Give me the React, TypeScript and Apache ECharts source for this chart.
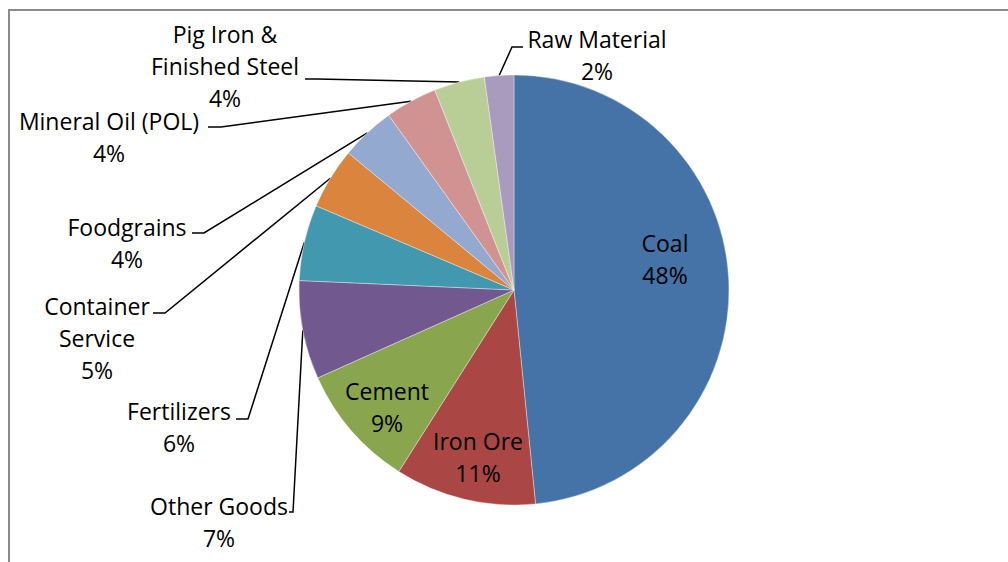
import React, { useEffect, useRef } from "react";
import * as echarts from "echarts";

// ---- data ----
const categories = [
  "Coal",
  "Iron Ore",
  "Cement",
  "Other Goods",
  "Fertilizers",
  "Container Service",
  "Foodgrains",
  "Mineral Oil (POL)",
  "Pig Iron & Finished Steel",
  "Raw Material",
];
const shares = [48.4, 10.6, 9.3, 7.4, 5.7, 4.6, 4.1, 3.9, 3.8, 2.2];
const labelNames = [
  "Coal",
  "Iron Ore",
  "Cement",
  "Other Goods",
  "Fertilizers",
  "Container\nService",
  "Foodgrains",
  "Mineral Oil (POL)",
  "Pig Iron &\nFinished Steel",
  "Raw Material",
];
const insideLabel = [true, true, true, false, false, false, false, false, false, false];

// ---- styles / layout ----
const colors = [
  "#4572A7",
  "#AA4643",
  "#89A54E",
  "#71588F",
  "#4198AF",
  "#DB843D",
  "#93A9CF",
  "#D19392",
  "#B9CD96",
  "#A99BBD",
];
type LL = { x: number; y: number; end?: number[]; elbow?: number[] };
const labelLayouts: LL[] = [
  { x: 665, y: 259 },
  { x: 478, y: 457 },
  { x: 387, y: 407 },
  { x: 219, y: 522, end: [289, 512], elbow: [293, 512] },
  { x: 179, y: 427, end: [236, 419], elbow: [248, 419] },
  { x: 97, y: 338, end: [153, 313], elbow: [165, 313] },
  { x: 127, y: 243, end: [192, 233], elbow: [204, 233] },
  { x: 109, y: 137, end: [208, 127], elbow: [221, 127] },
  { x: 225, y: 66, end: [305, 79], elbow: [317, 79] },
  { x: 597, y: 55, end: [523, 47], elbow: [512, 47] },
];

const FONT = "'Open Sans', 'Noto Sans', sans-serif";

export default function App() {
  const ref = useRef<HTMLDivElement>(null);
  useEffect(() => {
    if (!ref.current) return;
    const chart = echarts.init(ref.current, undefined, { renderer: "svg" });
    const data = categories.map((name, i) => ({
      name,
      value: shares[i],
      itemStyle: { color: colors[i] },
      label: { position: insideLabel[i] ? "inside" : "outside" },
      labelLine: { show: !insideLabel[i] },
    }));
    chart.setOption({
      animation: false,
      backgroundColor: "#ffffff",
      graphic: [
        {
          type: "rect",
          shape: { x: 9, y: 10, width: 1100, height: 700 },
          style: { fill: "none", stroke: "#8a8a8a", lineWidth: 2 },
          silent: true,
          z: 0,
        },
      ],
      series: [
        {
          type: "pie",
          center: [514, 290],
          radius: 215,
          startAngle: 90,
          clockwise: true,
          avoidLabelOverlap: false,
          itemStyle: { borderColor: "rgba(255,255,255,0.6)", borderWidth: 0.6 },
          label: {
            color: "#000",
            fontFamily: FONT,
            fontSize: 23,
            lineHeight: 32,
            align: "center",
            formatter: (p: any) =>
              `${labelNames[p.dataIndex]}\n${Math.round(p.percent)}%`,
          },
          labelLine: {
            show: true,
            length: 10,
            length2: 10,
            smooth: false,
            lineStyle: { color: "#000", width: 1.5 },
          },
          labelLayout: (params: any) => {
            const l = labelLayouts[params.dataIndex];
            const out: any = {
              x: l.x,
              y: l.y,
              align: "center",
              verticalAlign: "middle",
              hideOverlap: false,
            };
            if (l.end && l.elbow && params.labelLinePoints) {
              const start = params.labelLinePoints[0];
              out.labelLinePoints = [start, l.elbow, l.end];
            }
            return out;
          },
          emphasis: { disabled: true },
          data,
        },
      ],
    });
    return () => chart.dispose();
  }, []);
  return (
    <div
      ref={ref}
      style={{ position: "fixed", left: 0, top: 0, width: 1008, height: 562 }}
    />
  );
}
